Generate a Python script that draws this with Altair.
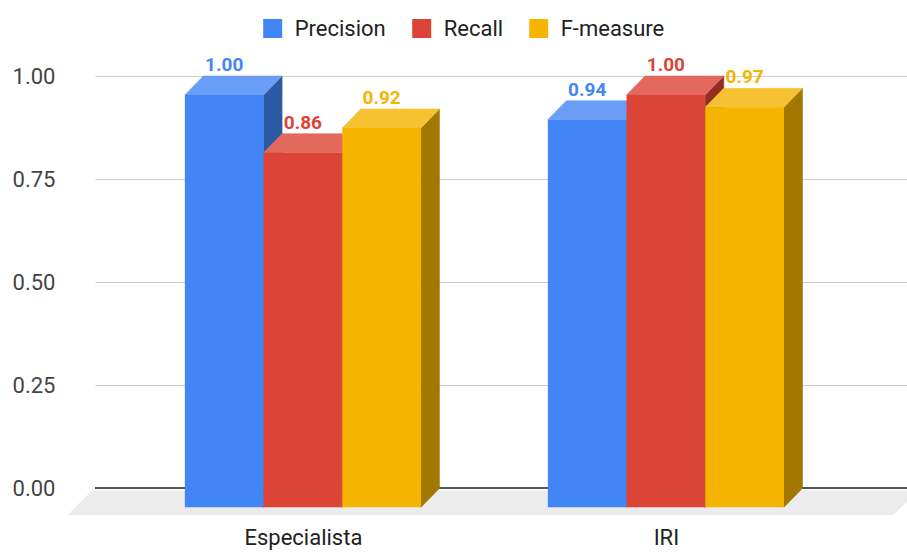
import json

import altair as alt
import pandas as pd

# ---- data -------------------------------------------------------------
categories = ["Especialista", "IRI"]
series = ["Precision", "Recall", "F-measure"]
precision = [1.00, 0.94]
recall = [0.86, 1.00]
f_measure = [0.92, 0.97]
y_ticks = [0.0, 0.25, 0.50, 0.75, 1.00]

front_colors = ["#4285f4", "#db4437", "#f4b400"]
top_colors = ["#6a9ef6", "#e3695f", "#f6c232"]
side_colors = ["#2c59a3", "#922d25", "#a37800"]

# ---- layout (pixels) --------------------------------------------------
PLOT_W, PLOT_H = 812, 444
PAD = {"left": 95, "top": 76, "right": 0, "bottom": 32}
GROUP_PX = 363          # distance between category centres
FIRST_GROUP_PX = 226.4  # back-plane centre of the first category, from plot left
BAR_PX = 78.7           # width of one bar
DEPTH_X_PX, DEPTH_Y_PX = 18.5, 19   # 3-D extrusion of the bars
Y_PX = 412.3            # pixels per unit on the value axis
FLOOR_GAP_PX, FLOOR_DEPTH_PX = 2.2, 24.5
FLOOR_LEFT_PX, FLOOR_RIGHT_PX = -3, 11
TEXT_SIZE = 22

# conversions to data units
x_min = -FIRST_GROUP_PX / GROUP_PX
x_max = x_min + PLOT_W / GROUP_PX
y_max = 1.0
y_min = y_max - PLOT_H / Y_PX
dx = DEPTH_X_PX / GROUP_PX
dy = DEPTH_Y_PX / Y_PX
bw = BAR_PX / GROUP_PX

values = {"Precision": precision, "Recall": recall, "F-measure": f_measure}

bar_rows, top_rows, side_rows = [], [], []
for i, cat in enumerate(categories):
    for j, s in enumerate(series):
        v = values[s][i]
        bx0 = i + (j - 1.5) * bw
        bx1 = bx0 + bw
        key = f"{cat}|{s}"
        bar_rows.append({
            "category": cat, "series": s, "value": v,
            "fx0": bx0 - dx, "fx1": bx1 - dx, "fxc": (bx0 + bx1) / 2 - dx,
            "fy0": -dy, "fy1": v - dy,
        })
        # top face: parallelogram between the front edge and the back edge
        for x, hi, lo in [(bx0 - dx, v - dy, v - dy), (bx0, v, v - dy),
                          (bx1 - dx, v, v - dy), (bx1, v, v)]:
            top_rows.append({"key": key, "x": x, "hi": hi, "lo": lo,
                             "fill": top_colors[j]})
        # right side face
        for x, hi, lo in [(bx1 - dx, v - dy, -dy), (bx1, v, 0.0)]:
            side_rows.append({"key": key, "x": x, "hi": hi, "lo": lo,
                              "fill": side_colors[j]})

bars = pd.DataFrame(bar_rows)
tops = pd.DataFrame(top_rows)
sides = pd.DataFrame(side_rows)

# floor under the bars
fb = -FLOOR_GAP_PX / Y_PX
ff = fb - FLOOR_DEPTH_PX / Y_PX
fdx = FLOOR_DEPTH_PX / GROUP_PX
fl = x_min + FLOOR_LEFT_PX / GROUP_PX
fr = x_max + FLOOR_RIGHT_PX / GROUP_PX
floor = pd.DataFrame({
    "x": [fl - fdx, fl, fr - fdx, fr],
    "hi": [ff, fb, fb, fb],
    "lo": [ff, ff, ff, fb],
})

FONT = "Roboto"
x_scale = alt.Scale(domain=[x_min, x_max], nice=False, zero=False)
y_scale = alt.Scale(domain=[y_min, y_max], nice=False, zero=False)
color_scale = alt.Scale(domain=series, range=front_colors)

label_expr = f"{json.dumps(categories)}[round(datum.value + {dx:.6f})]"

x_axis = alt.Axis(values=[i - dx for i in range(len(categories))],
                  labelExpr=label_expr, grid=False, ticks=False, tickSize=0,
                  domain=False, labelFontSize=TEXT_SIZE, labelFont=FONT,
                  labelColor="#222222", labelPadding=7, title=None)
y_axis = alt.Axis(values=y_ticks, format=".2f", ticks=False, domain=False,
                  labelFontSize=TEXT_SIZE, labelFont=FONT, labelColor="#444444",
                  labelPadding=40, gridColor="#cccccc", gridWidth=1,
                  title=None)


def xq(field):
    return alt.X(field, scale=x_scale, axis=x_axis)


def yq(field):
    return alt.Y(field, scale=y_scale, axis=y_axis)


floor_layer = alt.Chart(floor).mark_area(
    orient="vertical", color="#ececec", interpolate="linear"
).encode(x=xq("x:Q"), y=yq("hi:Q"), y2="lo:Q")

baseline = alt.Chart(bars).mark_rule(color="#555555", strokeWidth=1.5).encode(
    y=alt.Y(datum=0, scale=y_scale, axis=y_axis)
)

side_layer = alt.Chart(sides).mark_area(orient="vertical", strokeWidth=0.6).encode(
    x=xq("x:Q"), y=yq("hi:Q"), y2="lo:Q",
    detail="key:N",
    fill=alt.Fill("fill:N", scale=None),
    stroke=alt.Stroke("fill:N", scale=None),
)

top_layer = alt.Chart(tops).mark_area(orient="vertical", strokeWidth=0.6).encode(
    x=xq("x:Q"), y=yq("hi:Q"), y2="lo:Q",
    detail="key:N",
    fill=alt.Fill("fill:N", scale=None),
    stroke=alt.Stroke("fill:N", scale=None),
)

front_layer = alt.Chart(bars).mark_rect().encode(
    x=xq("fx0:Q"), x2="fx1:Q",
    y=yq("fy1:Q"), y2="fy0:Q",
    color=alt.Color(
        "series:N", scale=color_scale, sort=series,
        legend=alt.Legend(
            title=None, orient="none", direction="horizontal",
            legendX=166.7, legendY=-58.5, symbolType="square",
            symbolSize=361, symbolStrokeWidth=0, symbolOpacity=1,
            labelFontSize=TEXT_SIZE, labelFont=FONT, labelColor="#222222",
            labelOffset=11, columnPadding=24, padding=0,
        ),
    ),
)

value_labels = alt.Chart(bars).mark_text(
    baseline="alphabetic", align="center", dy=-5, fontSize=19,
    fontWeight="bold", font=FONT,
).encode(
    x=xq("fxc:Q"), y=yq("value:Q"),
    text=alt.Text("value:Q", format=".2f"),
    color=alt.Color("series:N", scale=color_scale, legend=None),
)

chart = alt.layer(
    floor_layer, baseline, side_layer, top_layer, front_layer, value_labels
).properties(
    width=PLOT_W, height=PLOT_H,
    autosize=alt.AutoSizeParams(type="none"),
    padding=PAD,
).configure(font=FONT).configure_view(stroke=None)

chart.save("out.html", embed_options={"renderer": "svg", "actions": False})
